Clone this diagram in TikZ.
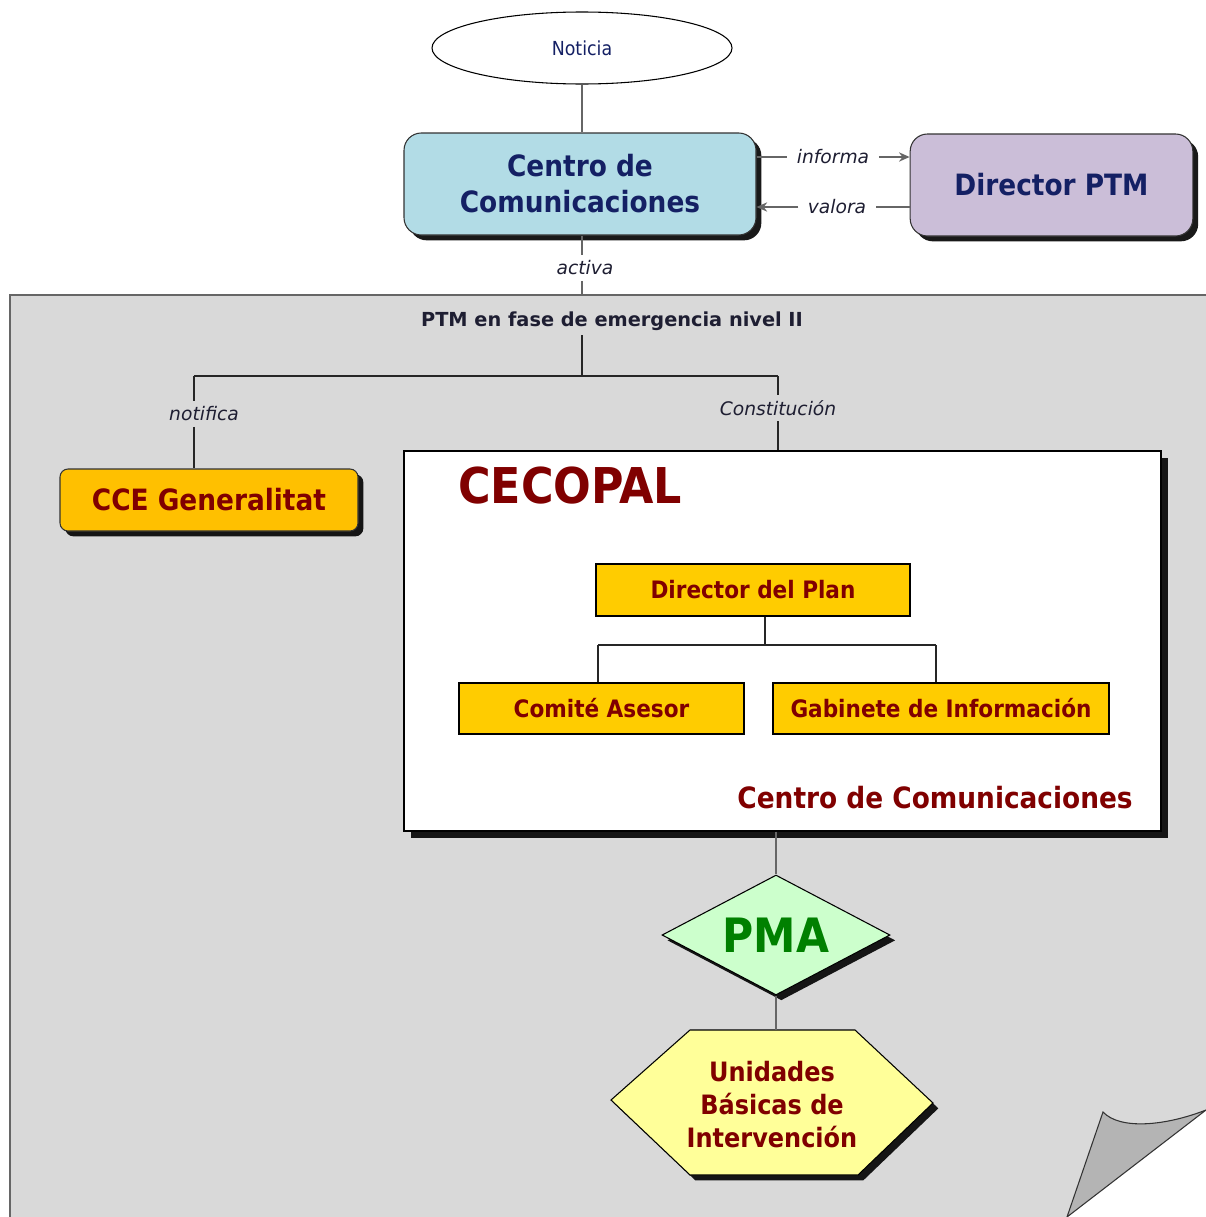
\documentclass[tikz,border=0pt]{standalone}
\usepackage{fontspec}
\setmainfont{DejaVu Sans Condensed}
\newfontfamily\widefont{DejaVu Sans}
\usetikzlibrary{shapes.geometric,shadows,arrows.meta,calc}
\definecolor{lblue}{RGB}{178,220,230}
\definecolor{lav}{RGB}{203,190,216}
\definecolor{cceorange}{RGB}{255,192,0}
\definecolor{boxyellow}{RGB}{255,204,0}
\definecolor{panelgray}{RGB}{217,217,217}
\definecolor{flapgray}{RGB}{180,180,180}
\definecolor{pmagreen}{RGB}{204,255,204}
\definecolor{hexyellow}{RGB}{255,255,153}
\definecolor{pmatext}{RGB}{0,128,0}
\definecolor{navy}{RGB}{20,32,100}
\definecolor{dred}{RGB}{128,0,0}
\definecolor{lblack}{RGB}{30,30,50}
\tikzset{
  shad/.style={drop shadow={shadow xshift=4pt,shadow yshift=-4pt,fill=black,opacity=0.9}},
  roundbox/.style={draw=black!80,line width=0.8pt,rounded corners=13pt,shad,align=center,inner sep=0pt},
  plainbox/.style={draw=black,line width=0.8pt,fill=boxyellow,inner sep=0pt,text=dred,font=\bfseries\fontsize{18}{21}\selectfont},
  conn/.style={draw=black!85,line width=0.8pt},
  gconn/.style={draw=black!60,line width=1pt},
  lbl/.style={font=\widefont\itshape\fontsize{14}{16}\selectfont,text=lblack,inner xsep=7pt,inner ysep=4pt}
}
\begin{document}
\begin{tikzpicture}[x=0.75pt,y=-0.75pt]
\useasboundingbox (0,0) rectangle (1206,1217);
% panel
\fill[panelgray] (10,295) -- (1206,295) -- (1206,1110) -- (1067,1217) -- (10,1217) -- cycle;
\draw[draw=black!60,line width=1.5pt] (10,1217) -- (10,295) -- (1206,295);
\filldraw[fill=flapgray,draw=black!80,line width=0.8pt] (1067,1217) -- (1103,1112) .. controls (1120,1130) and (1165,1126) .. (1206,1110) -- cycle;

% top nodes
\node[ellipse,draw=black,line width=0.8pt,fill=white,minimum width=225pt,minimum height=54pt,inner sep=0pt,text=navy,font=\fontsize{14.5}{16}\selectfont] (noticia) at (582,48) {Noticia};
\node[roundbox,fill=lblue,minimum width=264pt,minimum height=76.5pt,text=navy,font=\bfseries\fontsize{22}{27}\selectfont] (centro) at (580,184) {Centro de\\Comunicaciones};
\node[roundbox,fill=lav,minimum width=212pt,minimum height=76.5pt,text=navy,font=\bfseries\fontsize{22}{25}\selectfont] (dptm) at (1051.5,185) {Director PTM};

\draw[gconn] (noticia.south) -- (noticia.south |- centro.north);

\node[lbl] (inf) at (833,157) {informa};
\node[lbl] (val) at (837,207) {valora};
\draw[gconn] (centro.east |- inf) -- (inf.west);
\draw[gconn,-{Stealth[length=8pt,width=7pt]}] (inf.east) -- (dptm.west |- inf);
\draw[gconn] (dptm.west |- val) -- (val.east);
\draw[gconn,-{Stealth[length=8pt,width=7pt]}] (val.west) -- (centro.east |- val);

\coordinate (ptop) at (582,295);
\node[lbl] (act) at (585,268) {activa};
\draw[gconn] (ptop |- centro.south) -- (ptop |- act.north);
\draw[gconn] (ptop |- act.south) -- (ptop);

% panel content
\node[font=\widefont\bfseries\fontsize{14.5}{17}\selectfont,text=lblack] (ptm) at (612,321) {PTM en fase de emergencia nivel II};
\coordinate (j1) at (582,376);
\coordinate (jl) at (194,376);
\coordinate (jr) at (778,376);
\draw[conn] (j1 |- ptm.south) -- (j1);
\draw[conn] (jl) -- (jr);

\node[roundbox,rounded corners=6pt,fill=cceorange,minimum width=223.5pt,minimum height=46.5pt,text=dred,font=\bfseries\fontsize{22}{25}\selectfont] (cce) at (209,500) {CCE Generalitat};
\node[lbl] (notif) at (204,414) {notifica};
\draw[conn] (jl) -- (jl |- notif.north);
\draw[conn] (jl |- notif.south) -- (jl |- cce.north);

\node[draw=black,line width=0.8pt,fill=white,minimum width=567.75pt,minimum height=285pt,inner sep=0pt,drop shadow={shadow xshift=5pt,shadow yshift=-5pt,fill=black,opacity=0.9}] (cecopal) at (782.5,641) {};
\node[lbl] (const) at (778,408) {Constitución};
\draw[conn] (jr) -- (jr |- const.north);
\draw[conn] (jr |- const.south) -- (jr |- cecopal.north);

\node[anchor=west,inner sep=0pt,text=dred,font=\bfseries\fontsize{37}{42}\selectfont] (cectitle) at (458,486) {CECOPAL};
\node[anchor=east,inner sep=0pt,text=dred,font=\bfseries\fontsize{22}{25}\selectfont] (cctext) at (1133,798) {Centro de Comunicaciones};

\node[plainbox,minimum width=235.5pt,minimum height=39pt] (dplan) at (753,590) {Director del Plan};
\node[plainbox,minimum width=213.75pt,minimum height=38.25pt] (comite) at (601.5,708.5) {Comité Asesor};
\node[plainbox,minimum width=252pt,minimum height=38.25pt] (gab) at (941,708.5) {Gabinete de Información};
\coordinate (d1) at (765,645);
\coordinate (dl) at (598,645);
\coordinate (dr) at (936,645);
\draw[conn] (d1 |- dplan.south) -- (d1);
\draw[conn] (dl) -- (dr);
\draw[conn] (dl) -- (dl |- comite.north);
\draw[conn] (dr) -- (dr |- gab.north);

% PMA
\node[diamond,aspect=1.9,draw=black,line width=0.8pt,fill=pmagreen,minimum width=171pt,minimum height=90pt,inner sep=0pt,shad,text=pmatext,font=\bfseries\fontsize{35.5}{40}\selectfont] (pma) at (776,935) {PMA};
\draw[gconn] (pma.north |- cecopal.south) -- (pma.north);

% hexagon
\filldraw[fill=hexyellow,draw=black,line width=0.8pt,shad] (690,1030) -- (855,1030) -- (933,1103) -- (858,1175) -- (690,1175) -- (611,1100) -- cycle;
\coordinate (hextop) at (776,1030);
\node[align=center,text=dred,font=\bfseries\fontsize{20}{24.75}\selectfont] (ubi) at (772,1105) {Unidades\\Básicas de\\Intervención};
\draw[gconn] (pma.south) -- (hextop);
\end{tikzpicture}
\end{document}
